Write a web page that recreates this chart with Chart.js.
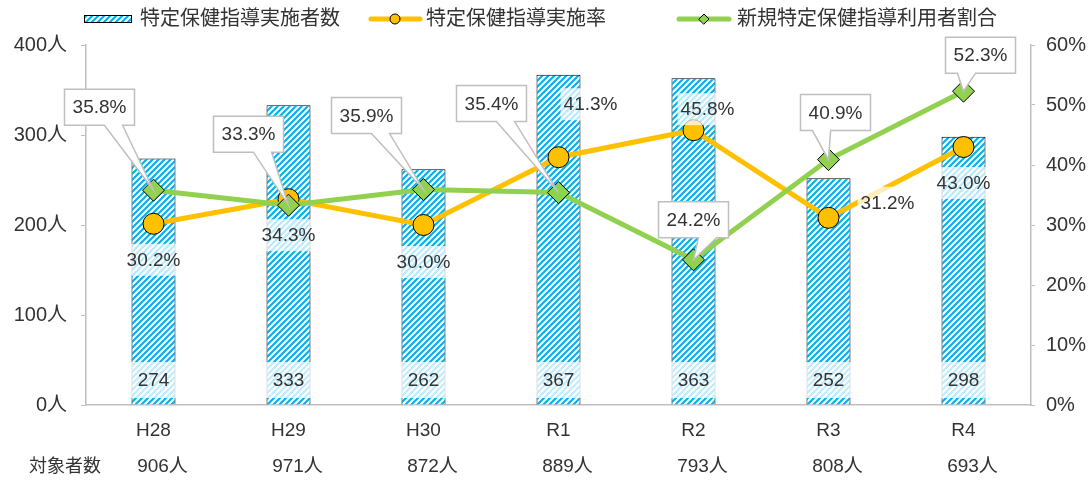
<!DOCTYPE html>
<html>
<head>
<meta charset="utf-8">
<script src="https://cdn.jsdelivr.net/npm/chart.js@4/dist/chart.umd.min.js"></script>
<style>
  body { margin: 0; background: #fff; }
  #wrap { width: 1090px; height: 486px; position: relative; }
</style>
</head>
<body>
<div id="wrap"><canvas id="myChart"></canvas></div>
<script>
var categories = ['H28', 'H29', 'H30', 'R1', 'R2', 'R3', 'R4'];
var jisshi_count = [274, 333, 262, 367, 363, 252, 298];
var jisshi_rate = [30.2, 34.3, 30.0, 41.3, 45.8, 31.2, 43.0];
var shinki_rate = [35.8, 33.3, 35.9, 35.4, 24.2, 40.9, 52.3];
var taisho_count = [906, 971, 872, 889, 793, 808, 693];
var series_names = ['特定保健指導実施者数', '特定保健指導実施率', '新規特定保健指導利用者割合'];
var taisho_title = '対象者数';

// label placement (pixels from the point)
var rate_label_offset = [[0, 36], [0, 36], [0, 37], [32, -53], [14, -21], [59, -15], [0, 36]];
var callout_offset = [[-54, -83], [-40, -71], [-57, -74], [-67, -89], [0, -40], [7, -47], [17, -36]];

var font_family = '"Liberation Sans", "Noto Sans CJK JP", sans-serif';
var txt_col = '#333333';
var axis_col = '#bfbfbf';
var col_blue = '#00B0F0';
var col_yellow = '#FFC000';
var col_green = '#92D050';

var ctx = document.getElementById('myChart').getContext('2d');

function make_stripe () {
  var c = document.createElement('canvas');
  c.width = 6; c.height = 6;
  var g = c.getContext('2d');
  g.fillStyle = '#fff';
  g.fillRect(0, 0, 6, 6);
  g.strokeStyle = col_blue;
  g.lineWidth = 2.1;
  g.beginPath();
  g.moveTo(-1, 1); g.lineTo(1, -1);
  g.moveTo(0, 6); g.lineTo(6, 0);
  g.moveTo(5, 7); g.lineTo(7, 5);
  g.stroke();
  return ctx.createPattern(c, 'repeat');
}
var stripe = make_stripe();

function draw_diamond (c, x, y, r) {
  c.beginPath();
  c.moveTo(x - r, y); c.lineTo(x, y - r); c.lineTo(x + r, y); c.lineTo(x, y + r);
  c.closePath();
}

var legend_plugin = {
  id: 'own_legend',
  afterDraw: function (chart) {
    var c = chart.ctx;
    var cy = 19;
    c.save();
    c.font = '20px ' + font_family;
    c.fillStyle = txt_col;
    c.textAlign = 'left';
    c.textBaseline = 'middle';
    // bar item
    c.fillStyle = stripe;
    c.fillRect(84, cy - 4, 48, 8);
    c.strokeStyle = '#000';
    c.lineWidth = 1;
    c.strokeRect(84.5, cy - 3.5, 47, 7);
    c.fillStyle = txt_col;
    c.fillText(series_names[0], 140, cy);
    // yellow line item
    c.strokeStyle = col_yellow;
    c.lineWidth = 5;
    c.lineCap = 'round';
    c.beginPath(); c.moveTo(371, cy); c.lineTo(420, cy); c.stroke();
    c.beginPath(); c.arc(395, cy, 5, 0, Math.PI * 2);
    c.fillStyle = col_yellow; c.fill();
    c.lineWidth = 1; c.strokeStyle = '#000'; c.stroke();
    c.fillStyle = txt_col;
    c.fillText(series_names[1], 426, cy);
    // green line item
    c.strokeStyle = col_green;
    c.lineWidth = 5;
    c.beginPath(); c.moveTo(679, cy); c.lineTo(729, cy); c.stroke();
    draw_diamond(c, 704, cy, 5);
    c.fillStyle = col_green; c.fill();
    c.lineWidth = 1; c.strokeStyle = '#000'; c.stroke();
    c.fillStyle = txt_col;
    c.fillText(series_names[2], 737, cy);

    // 対象者数 row
    var xs = chart.scales.x;
    c.textAlign = 'center';
    c.font = '18px ' + font_family;
    c.fillText(taisho_title, 65, 467);
    c.font = '19px ' + font_family;
    for (var i = 0; i < taisho_count.length; i++) {
      c.fillText(taisho_count[i] + '人', xs.getPixelForValue(i) + 9, 467);
    }
    c.restore();
  }
};

var label_plugin = {
  id: 'value_labels',
  afterDatasetsDraw: function (chart) {
    var c = chart.ctx;
    var bars = chart.getDatasetMeta(0).data;
    var rate_pts = chart.getDatasetMeta(1).data;
    var new_pts = chart.getDatasetMeta(2).data;
    var y0 = chart.scales.y.getPixelForValue(0);
    var i, x, y, tw, txt;
    c.save();
    c.font = '19px ' + font_family;
    c.textAlign = 'center';
    c.textBaseline = 'middle';

    // counts at bottom of bars
    for (i = 0; i < bars.length; i++) {
      txt = String(jisshi_count[i]);
      x = bars[i].x; y = y0 - 25;
      tw = c.measureText(txt).width + 14;
      c.fillStyle = 'rgba(255,255,255,0.75)';
      c.fillRect(x - tw / 2, y - 18, tw, 36);
      c.fillStyle = txt_col;
      c.fillText(txt, x, y + 1);
    }

    // 実施率 labels
    for (i = 0; i < rate_pts.length; i++) {
      txt = jisshi_rate[i].toFixed(1) + '%';
      x = rate_pts[i].x + rate_label_offset[i][0];
      y = rate_pts[i].y + rate_label_offset[i][1];
      tw = c.measureText(txt).width + 6;
      c.fillStyle = 'rgba(255,255,255,0.72)';
      c.fillRect(x - tw / 2, y - 16, tw, 32);
      c.fillStyle = txt_col;
      c.fillText(txt, x, y + 1);
    }

    // 新規利用者割合 callouts
    var bw = 70, bh = 36;
    for (i = 0; i < new_pts.length; i++) {
      txt = shinki_rate[i].toFixed(1) + '%';
      var px = new_pts[i].x, py = new_pts[i].y;
      var cx = px + callout_offset[i][0], cy = py + callout_offset[i][1];
      var l = cx - bw / 2, r = cx + bw / 2, t = cy - bh / 2, b = cy + bh / 2;
      var b1, b2;
      if (px >= cx) { b1 = cx + bw * 0.07; b2 = cx + bw * 0.33; }
      else { b1 = cx - bw * 0.33; b2 = cx - bw * 0.07; }
      c.beginPath();
      c.moveTo(l, t); c.lineTo(r, t); c.lineTo(r, b);
      c.lineTo(b2, b); c.lineTo(px, py); c.lineTo(b1, b);
      c.lineTo(l, b); c.closePath();
      c.fillStyle = '#fff';
      c.fill();
      c.strokeStyle = axis_col;
      c.lineWidth = 1.5;
      c.lineJoin = 'miter';
      c.stroke();
      c.fillStyle = txt_col;
      c.fillText(txt, cx, cy + 1);
    }
    c.restore();
  }
};

var chart = new Chart(ctx, {
  data: {
    labels: categories,
    datasets: [{
      type: 'bar',
      label: series_names[0],
      data: jisshi_count,
      yAxisID: 'y',
      backgroundColor: stripe,
      borderColor: '#000',
      borderWidth: 1,
      categoryPercentage: 1,
      barPercentage: 0.326,
      order: 3
    }, {
      type: 'line',
      label: series_names[1],
      data: jisshi_rate,
      yAxisID: 'y1',
      borderColor: col_yellow,
      borderWidth: 5,
      tension: 0,
      pointRadius: 10.5,
      pointBackgroundColor: col_yellow,
      pointBorderColor: '#000',
      pointBorderWidth: 1,
      order: 2
    }, {
      type: 'line',
      label: series_names[2],
      data: shinki_rate,
      yAxisID: 'y1',
      borderColor: col_green,
      borderWidth: 5,
      tension: 0,
      pointStyle: 'rectRot',
      pointRadius: 11,
      pointBackgroundColor: col_green,
      pointBorderColor: '#000',
      pointBorderWidth: 1,
      order: 1
    }]
  },
  options: {
    responsive: true,
    maintainAspectRatio: false,
    animation: false,
    layout: { padding: { top: 45 } },
    plugins: {
      legend: { display: false },
      tooltip: { enabled: false }
    },
    scales: {
      x: {
        grid: { display: true, drawOnChartArea: false, drawTicks: false },
        border: { color: axis_col, width: 1.5 },
        ticks: { color: txt_col, font: { size: 19, family: font_family }, padding: 14 },
        afterFit: function (s) { s.height = 81; }
      },
      y: {
        position: 'left',
        min: 0, max: 400,
        grid: { drawOnChartArea: false, tickLength: 5, color: axis_col },
        border: { color: axis_col, width: 1.5 },
        ticks: {
          stepSize: 100, color: txt_col, padding: 14,
          font: { size: 20, family: font_family },
          callback: function (v) { return v + '人'; }
        },
        afterFit: function (s) { s.width = 86; }
      },
      y1: {
        position: 'right',
        min: 0, max: 60,
        grid: { drawOnChartArea: false, tickLength: 4, color: axis_col },
        border: { color: axis_col, width: 1.5 },
        ticks: {
          stepSize: 10, color: txt_col, padding: 11,
          font: { size: 20, family: font_family },
          callback: function (v) { return v + '%'; }
        },
        afterFit: function (s) { s.width = 59; }
      }
    }
  },
  plugins: [label_plugin, legend_plugin]
});
</script>
</body>
</html>
